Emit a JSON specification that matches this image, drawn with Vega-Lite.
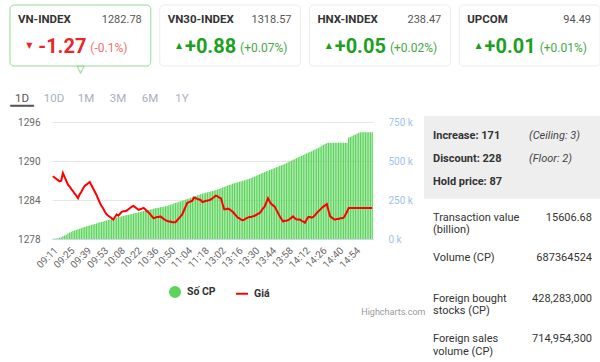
{
  "$schema": "https://vega.github.io/schema/vega-lite/v6.json",
  "padding": {"left": 0, "top": 4, "right": 0, "bottom": 0},
  "background": "white",
  "bounds": "flush",
  "spacing": 0,
  "vconcat": [
    {
      "width": 610, "height": 61,
      "data": {"values": [
        {"name": "VN-INDEX", "value": "1282.78", "arrow": "▼", "change": "-1.27", "pct": "(-0.1%)", "dir": "down"},
        {"name": "VN30-INDEX", "value": "1318.57", "arrow": "▲", "change": "+0.88", "pct": "(+0.07%)", "dir": "up"},
        {"name": "HNX-INDEX", "value": "238.47", "arrow": "▲", "change": "+0.05", "pct": "(+0.02%)", "dir": "up"},
        {"name": "UPCOM", "value": "94.49", "arrow": "▲", "change": "+0.01", "pct": "(+0.01%)", "dir": "up"}
      ]},
      "encoding": {"x": {"field": "name", "type": "nominal", "sort": null, "scale": {"type": "band", "paddingInner": 0.06, "paddingOuter": 0.0667}, "axis": null}},
      "layer": [
        {"mark": {"type": "bar", "fill": "white", "strokeWidth": 1, "cornerRadius": 4},
         "encoding": {"stroke": {"condition": {"test": "datum.name === 'VN-INDEX'", "value": "#98d898"}, "value": "#ececec"}}},
        {"transform": [{"filter": "datum.name === 'VN-INDEX'"}],
         "mark": {"type": "text", "text": "▼", "fontSize": 9, "fill": "white", "stroke": "#98d898", "strokeWidth": 1, "dy": 33, "font": "DejaVu Sans"}},
        {"mark": {"type": "text", "align": "left", "dx": 8, "dy": -15.5, "fontSize": 11.5, "fontWeight": "bold", "color": "#333"},
         "encoding": {"x": {"field": "name", "type": "nominal", "sort": null, "bandPosition": 0}, "text": {"field": "name"}}},
        {"mark": {"type": "text", "align": "right", "dx": -9, "dy": -15.5, "fontSize": 11, "color": "#555"},
         "encoding": {"x": {"field": "name", "type": "nominal", "sort": null, "bandPosition": 1}, "text": {"field": "value"}}},
        {"mark": {"type": "text", "align": "center", "dx": -51, "dy": 10.5, "fontSize": 8, "font": "DejaVu Sans"},
         "encoding": {"text": {"field": "arrow"}, "color": {"condition": {"test": "datum.dir === 'down'", "value": "#e8262b"}, "value": "#1f9f1f"}}},
        {"mark": {"type": "text", "align": "right", "dx": 6, "dy": 11.5, "fontSize": 20, "fontWeight": "bold"},
         "encoding": {"text": {"field": "change"}, "color": {"condition": {"test": "datum.dir === 'down'", "value": "#e8262b"}, "value": "#1f9f1f"}}},
        {"mark": {"type": "text", "align": "left", "dx": 10, "dy": 12.5, "fontSize": 12},
         "encoding": {"text": {"field": "pct"}, "color": {"condition": {"test": "datum.dir === 'down'", "value": "#f07070"}, "value": "#45a845"}}}
      ]
    },
    {
      "width": 204, "height": 50,
      "data": {"values": [{"tab": "1D"}, {"tab": "10D"}, {"tab": "1M"}, {"tab": "3M"}, {"tab": "6M"}, {"tab": "1Y"}]},
      "encoding": {"x": {"field": "tab", "type": "nominal", "sort": null, "scale": {"type": "point", "padding": 0.6875}, "axis": null}},
      "layer": [
        {"mark": {"type": "text", "fontSize": 11.5, "dy": 8},
         "encoding": {"text": {"field": "tab"}, "color": {"condition": {"test": "datum.tab === '1D'", "value": "#555"}, "value": "#a9b0bf"}}},
        {"transform": [{"filter": "datum.tab === '1D'"}],
         "mark": {"type": "text", "text": "━━━", "font": "DejaVu Sans", "fontSize": 13, "color": "#555", "dy": 15}}
      ]
    },
    {
      "hconcat": [
        {"width": 1, "height": 1, "data": {"values": [{}]}, "mark": {"type": "text"}, "encoding": {"text": {"value": ""}}},
        {
          "width": 321, "height": 123,
          "title": {"text": "Highcharts.com", "orient": "bottom", "anchor": "end", "fontSize": 9, "fontWeight": "normal", "color": "#999", "offset": 38, "dx": 13},
          "data": {"values": [
            {"t":"09:11","v":1000,"p":1287.7},{"t":"09:12","v":2000,"p":1287.5},{"t":"09:14","v":3000,"p":1287.3},{"t":"09:15","v":5000,"p":1287.1},{"t":"09:16","v":8000,"p":1286.9},
            {"t":"09:18","v":12000,"p":1287.0},{"t":"09:19","v":17000,"p":1288.2},{"t":"09:21","v":22000,"p":1287.6},{"t":"09:22","v":28000,"p":1287.0},{"t":"09:23","v":35000,"p":1286.4},
            {"t":"09:25","v":41000,"p":1286.1},{"t":"09:26","v":46000,"p":1285.7},{"t":"09:28","v":51000,"p":1285.4},{"t":"09:29","v":55000,"p":1285.0},{"t":"09:30","v":59000,"p":1284.7},
            {"t":"09:32","v":63000,"p":1284.3},{"t":"09:33","v":66000,"p":1284.9},{"t":"09:35","v":70000,"p":1285.3},{"t":"09:36","v":74000,"p":1285.8},{"t":"09:37","v":77000,"p":1286.2},
            {"t":"09:39","v":81000,"p":1286.4},{"t":"09:40","v":84000,"p":1286.6},{"t":"09:42","v":87000,"p":1286.8},{"t":"09:43","v":91000,"p":1286.3},{"t":"09:44","v":94000,"p":1285.8},
            {"t":"09:46","v":97000,"p":1285.3},{"t":"09:47","v":100000,"p":1284.8},{"t":"09:49","v":104000,"p":1284.2},{"t":"09:50","v":107000,"p":1283.6},{"t":"09:51","v":110000,"p":1283.1},
            {"t":"09:53","v":113000,"p":1282.7},{"t":"09:54","v":116000,"p":1282.2},{"t":"09:56","v":119000,"p":1281.8},{"t":"09:57","v":122000,"p":1281.6},{"t":"09:58","v":126000,"p":1281.4},
            {"t":"10:00","v":129000,"p":1281.2},{"t":"10:01","v":132000,"p":1281.0},{"t":"10:03","v":135000,"p":1281.4},{"t":"10:04","v":138000,"p":1281.8},{"t":"10:06","v":141000,"p":1281.6},
            {"t":"10:08","v":143000,"p":1281.9},{"t":"10:09","v":146000,"p":1282.2},{"t":"10:11","v":148000,"p":1282.3},{"t":"10:12","v":151000,"p":1282.3},{"t":"10:13","v":154000,"p":1282.4},
            {"t":"10:15","v":156000,"p":1282.6},{"t":"10:16","v":159000,"p":1282.8},{"t":"10:18","v":161000,"p":1283.0},{"t":"10:19","v":164000,"p":1283.1},{"t":"10:20","v":167000,"p":1282.9},
            {"t":"10:22","v":169000,"p":1282.7},{"t":"10:23","v":172000,"p":1282.5},{"t":"10:25","v":174000,"p":1282.6},{"t":"10:26","v":177000,"p":1282.7},{"t":"10:27","v":180000,"p":1282.8},
            {"t":"10:29","v":182000,"p":1282.6},{"t":"10:30","v":185000,"p":1282.3},{"t":"10:32","v":187000,"p":1282.1},{"t":"10:33","v":190000,"p":1281.8},{"t":"10:34","v":192000,"p":1281.5},
            {"t":"10:36","v":195000,"p":1281.2},{"t":"10:37","v":197000,"p":1281.3},{"t":"10:39","v":199000,"p":1281.4},{"t":"10:40","v":201000,"p":1281.4},{"t":"10:41","v":204000,"p":1281.5},
            {"t":"10:43","v":206000,"p":1281.3},{"t":"10:44","v":208000,"p":1281.1},{"t":"10:46","v":211000,"p":1280.9},{"t":"10:47","v":213000,"p":1280.8},{"t":"10:48","v":217000,"p":1280.7},
            {"t":"10:50","v":220000,"p":1280.7},{"t":"10:51","v":224000,"p":1280.6},{"t":"10:53","v":228000,"p":1280.6},{"t":"10:54","v":232000,"p":1280.6},{"t":"10:55","v":235000,"p":1280.9},
            {"t":"10:57","v":239000,"p":1281.2},{"t":"10:58","v":243000,"p":1281.5},{"t":"11:00","v":246000,"p":1281.8},{"t":"11:01","v":250000,"p":1282.4},{"t":"11:02","v":254000,"p":1283.0},
            {"t":"11:04","v":258000,"p":1283.6},{"t":"11:05","v":261000,"p":1283.7},{"t":"11:07","v":265000,"p":1283.8},{"t":"11:08","v":269000,"p":1283.9},{"t":"11:09","v":273000,"p":1284.4},
            {"t":"11:11","v":277000,"p":1284.3},{"t":"11:12","v":280000,"p":1284.2},{"t":"11:14","v":284000,"p":1284.1},{"t":"11:15","v":288000,"p":1284.0},{"t":"11:16","v":291000,"p":1283.7},
            {"t":"11:18","v":294000,"p":1283.8},{"t":"11:19","v":297000,"p":1283.9},{"t":"11:21","v":300000,"p":1283.9},{"t":"11:22","v":303000,"p":1284.0},{"t":"11:23","v":306000,"p":1284.1},
            {"t":"11:25","v":309000,"p":1284.3},{"t":"11:27","v":312000,"p":1284.5},{"t":"11:29","v":315000,"p":1284.7},{"t":"13:00","v":318000,"p":1284.6},{"t":"13:01","v":322000,"p":1284.4},
            {"t":"13:02","v":326000,"p":1284.3},{"t":"13:03","v":330000,"p":1283.4},{"t":"13:05","v":334000,"p":1282.6},{"t":"13:06","v":339000,"p":1282.6},{"t":"13:07","v":343000,"p":1282.7},
            {"t":"13:09","v":347000,"p":1282.6},{"t":"13:10","v":351000,"p":1282.4},{"t":"13:12","v":355000,"p":1282.2},{"t":"13:13","v":358000,"p":1281.9},{"t":"13:14","v":361000,"p":1281.6},
            {"t":"13:16","v":365000,"p":1281.3},{"t":"13:17","v":368000,"p":1281.2},{"t":"13:19","v":371000,"p":1281.0},{"t":"13:20","v":374000,"p":1280.9},{"t":"13:21","v":377000,"p":1281.0},
            {"t":"13:23","v":381000,"p":1281.2},{"t":"13:24","v":384000,"p":1281.3},{"t":"13:26","v":387000,"p":1281.4},{"t":"13:27","v":392000,"p":1281.4},{"t":"13:28","v":397000,"p":1281.5},
            {"t":"13:30","v":401000,"p":1281.6},{"t":"13:31","v":406000,"p":1281.7},{"t":"13:33","v":411000,"p":1281.9},{"t":"13:34","v":416000,"p":1282.0},{"t":"13:35","v":421000,"p":1282.3},
            {"t":"13:37","v":425000,"p":1282.7},{"t":"13:38","v":430000,"p":1283.0},{"t":"13:40","v":435000,"p":1283.6},{"t":"13:41","v":439000,"p":1284.3},{"t":"13:42","v":443000,"p":1283.8},
            {"t":"13:44","v":448000,"p":1283.4},{"t":"13:45","v":452000,"p":1283.2},{"t":"13:47","v":456000,"p":1283.0},{"t":"13:48","v":461000,"p":1282.5},{"t":"13:49","v":465000,"p":1282.0},
            {"t":"13:51","v":469000,"p":1281.5},{"t":"13:52","v":474000,"p":1281.1},{"t":"13:54","v":478000,"p":1280.7},{"t":"13:55","v":483000,"p":1280.8},{"t":"13:56","v":488000,"p":1280.8},
            {"t":"13:58","v":494000,"p":1280.9},{"t":"13:59","v":499000,"p":1281.1},{"t":"14:01","v":504000,"p":1281.3},{"t":"14:02","v":509000,"p":1281.5},{"t":"14:03","v":514000,"p":1281.2},
            {"t":"14:05","v":520000,"p":1281.0},{"t":"14:06","v":525000,"p":1281.0},{"t":"14:08","v":530000,"p":1281.0},{"t":"14:09","v":535000,"p":1280.8},{"t":"14:10","v":540000,"p":1280.7},
            {"t":"14:12","v":545000,"p":1280.5},{"t":"14:13","v":550000,"p":1281.0},{"t":"14:15","v":555000,"p":1281.4},{"t":"14:16","v":560000,"p":1281.4},{"t":"14:17","v":565000,"p":1281.3},
            {"t":"14:19","v":570000,"p":1281.4},{"t":"14:20","v":575000,"p":1281.7},{"t":"14:22","v":580000,"p":1282.0},{"t":"14:23","v":586000,"p":1282.3},{"t":"14:24","v":592000,"p":1282.5},
            {"t":"14:26","v":599000,"p":1282.8},{"t":"14:27","v":605000,"p":1283.0},{"t":"14:29","v":611000,"p":1283.2},{"t":"14:30","v":617000,"p":1283.4},{"t":"14:31","v":619000,"p":1282.4},
            {"t":"14:33","v":619000,"p":1281.5},{"t":"14:34","v":619000,"p":1281.3},{"t":"14:36","v":619000,"p":1281.1},{"t":"14:37","v":619000,"p":1281.0},{"t":"14:38","v":619000,"p":1281.1},
            {"t":"14:40","v":619000,"p":1281.1},{"t":"14:41","v":619000,"p":1281.2},{"t":"14:43","v":619000,"p":1281.2},{"t":"14:44","v":619000,"p":1281.3},{"t":"14:45","v":619000,"p":1281.7},
            {"t":"14:47","v":619000,"p":1282.2},{"t":"14:48","v":651000,"p":1282.78},{"t":"14:50","v":656000,"p":1282.78},{"t":"14:51","v":661000,"p":1282.78},{"t":"14:52","v":667000,"p":1282.78},
            {"t":"14:54","v":672000,"p":1282.78},{"t":"14:55","v":677000,"p":1282.78},{"t":"14:57","v":683000,"p":1282.78},{"t":"14:58","v":686000,"p":1282.78},{"t":"14:59","v":686000,"p":1282.78},
            {"t":"15:01","v":686000,"p":1282.78},{"t":"15:02","v":686000,"p":1282.78},{"t":"15:04","v":686000,"p":1282.78},{"t":"15:05","v":686000,"p":1282.78},{"t":"15:06","v":686000,"p":1282.78},
            {"t":"15:08","v":687000,"p":1282.78}
          ]},
          "encoding": {
            "x": {"field": "t", "type": "ordinal", "sort": null,
                  "scale": {"paddingInner": 0.25, "paddingOuter": 0.1},
                  "axis": {"values": ["09:11","09:25","09:39","09:53","10:08","10:22","10:36","10:50","11:04","11:18","13:02","13:16","13:30","13:44","13:58","14:12","14:26","14:40","14:54"],
                           "labelAngle": -45, "labelFontSize": 10, "labelColor": "#666", "ticks": false, "domainColor": "#ccd6eb", "title": null, "labelPadding": 6, "grid": false}}
          },
          "layer": [
            {"mark": {"type": "bar"},
             "encoding": {
               "y": {"field": "v", "type": "quantitative", "scale": {"domain": [0, 791000], "nice": false},
                     "axis": {"orient": "right", "values": [0, 250000, 500000, 750000], "labelExpr": "(datum.value / 1000) + ' k'", "grid": false, "domain": false, "ticks": false, "labelPadding": 15, "labelColor": "#9cc3ee", "labelFontSize": 10, "title": null}},
               "color": {"datum": "Số CP", "type": "nominal",
                         "scale": {"domain": ["Số CP", "Giá"], "range": ["#5cd45c", "#ff0000"]},
                         "legend": {"orient": "none", "legendX": 169, "legendY": 281, "direction": "horizontal", "title": null,
                                    "labelFontSize": 10.5, "labelFontWeight": "bold", "labelColor": "#333", "labelOffset": 6, "columnPadding": 16,
                                    "encode": {"symbols": {"update": {
                                      "shape": {"signal": "datum.value === 'Giá' ? 'stroke' : 'circle'"},
                                      "size": {"signal": "datum.value === 'Giá' ? 144 : 100"},
                                      "fill": {"signal": "datum.value === 'Giá' ? 'transparent' : '#40c840'"},
                                      "stroke": {"signal": "datum.value === 'Giá' ? '#ff0000' : 'transparent'"},
                                      "strokeWidth": {"value": 2},
                                      "opacity": {"value": 1}}}}}}
             }},
            {"mark": {"type": "line", "strokeWidth": 2},
             "encoding": {
               "y": {"field": "p", "type": "quantitative", "scale": {"domain": [1278, 1297], "nice": false, "zero": false},
                     "axis": {"orient": "left", "values": [1278, 1284, 1290, 1296], "format": "d", "grid": true, "gridColor": "#e6e6e6", "domain": false, "ticks": false, "labelPadding": 12, "labelFontSize": 10, "labelColor": "#666", "title": null}},
               "color": {"datum": "Giá", "type": "nominal"}
             }}
          ],
          "resolve": {"scale": {"y": "independent"}}
        },
        {
          "vconcat": [
            {
              "width": 176, "height": 83,
              "layer": [
                {"data": {"values": [{"sec": "summary"}]},
                 "mark": {"type": "bar", "color": "#eeeeee"},
                 "encoding": {"y": {"field": "sec", "type": "nominal", "scale": {"type": "band", "paddingInner": 0, "paddingOuter": 0}, "axis": null}}},
                {"data": {"values": [{"label": "Increase: 171", "note": "(Ceiling: 3)"}, {"label": "Discount: 228", "note": "(Floor: 2)"}, {"label": "Hold price: 87", "note": ""}]},
                 "encoding": {"y": {"field": "label", "type": "nominal", "sort": null, "scale": {"type": "point", "padding": 0.8}, "axis": null}},
                 "layer": [
                   {"mark": {"type": "text", "align": "left", "dx": -79, "dy": 1.5, "fontSize": 11, "fontWeight": "bold", "color": "#333"}, "encoding": {"text": {"field": "label"}}},
                   {"mark": {"type": "text", "align": "left", "dx": 17, "dy": 1.5, "fontSize": 11, "fontStyle": "italic", "color": "#444"}, "encoding": {"text": {"field": "note"}}}
                 ]}
              ],
              "resolve": {"scale": {"y": "independent"}}
            },
            {
              "width": 176, "height": 164,
              "data": {"values": [{"label": "Transaction value\n(billion)", "val": "15606.68"}, {"label": "Volume (CP)", "val": "687364524"}, {"label": "Foreign bought\nstocks (CP)", "val": "428,283,000"}, {"label": "Foreign sales\nvolume (CP)", "val": "714,954,300"}]},
              "encoding": {"y": {"field": "label", "type": "nominal", "sort": null, "scale": {"type": "point", "padding": 0.525, "align": 0.3}, "axis": null}},
              "layer": [
                {"mark": {"type": "text", "align": "left", "baseline": "top", "dx": -79, "fontSize": 11, "color": "#333", "lineBreak": "\n", "lineHeight": 12.6}, "encoding": {"text": {"field": "label"}}},
                {"mark": {"type": "text", "align": "right", "baseline": "top", "dx": 80, "fontSize": 11, "color": "#333"}, "encoding": {"text": {"field": "val"}}}
              ]
            }
          ],
          "spacing": 0,
          "bounds": "flush"
        }
      ],
      "spacing": 51,
      "bounds": "flush"
    }
  ],
  "config": {"font": "Roboto", "view": {"stroke": null}}
}
